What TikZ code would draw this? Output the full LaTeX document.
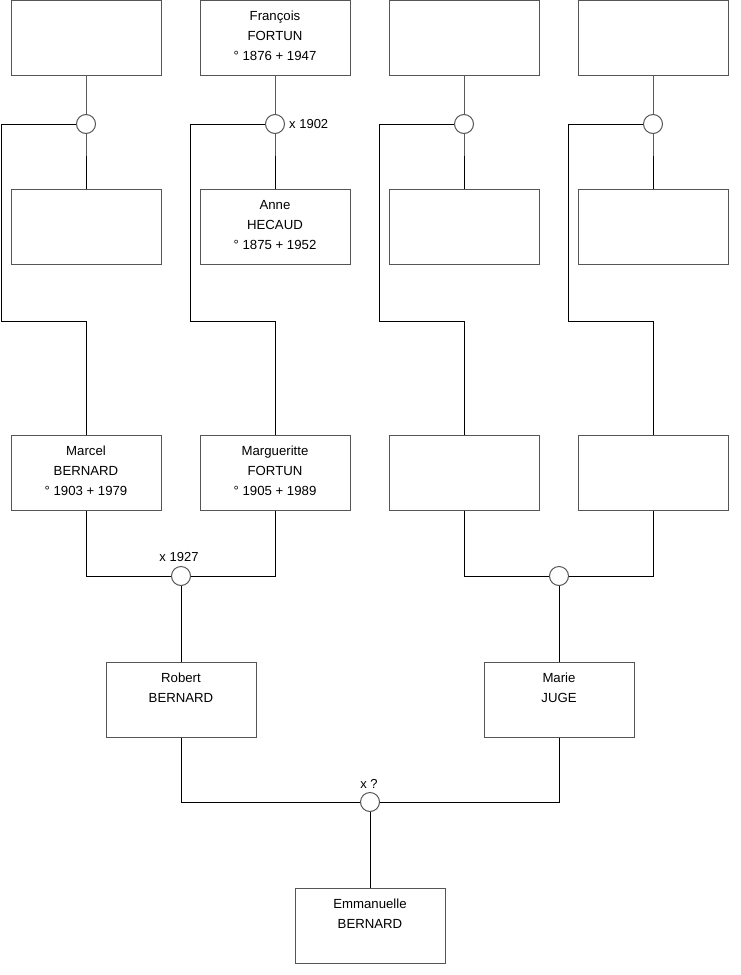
\documentclass[tikz,border=0pt]{standalone}
\usepackage{fontspec}
\setmainfont{Liberation Sans}
\definecolor{boxline}{RGB}{85,85,85}
\begin{document}
\begin{tikzpicture}[x=1pt,y=-1pt,
  pbox/.style={draw=boxline,line width=1pt,minimum width=150pt,minimum height=75pt,inner sep=0pt,fill=white},
  ptext/.style={anchor=base,inner sep=0pt},
  knot/.style={circle,draw=boxline,line width=1pt,minimum size=19pt,inner sep=0pt,fill=white},
  link/.style={draw=black,line width=1pt},
  lbl/.style={inner sep=0pt,font=\fontsize{13}{15}\selectfont}]
\useasboundingbox (0,0) rectangle (740,975);
\newcommand{\ptxt}[1]{\parbox[t]{150pt}{\centering\fontsize{13.2}{20}\selectfont #1}}
% connectors first
\coordinate (k1) at (86,124);
\coordinate (k2) at (275,124);
\coordinate (k3) at (464,124);
\coordinate (k4) at (653,124);
\coordinate (k5) at (181,576);
\coordinate (k6) at (559,576);
\coordinate (k7) at (370,802);
% boxes
\node[pbox] (a1) at (86,38) {};
\node[pbox] (a2) at (275,38) {};
\node[pbox] (a3) at (464,38) {};
\node[pbox] (a4) at (653,38) {};
\node[pbox] (b1) at (86,226.5) {};
\node[pbox] (b2) at (275,226.5) {};
\node[pbox] (b3) at (464,226.5) {};
\node[pbox] (b4) at (653,226.5) {};
\node[pbox] (m1) at (86,472.5) {};
\node[pbox] (m2) at (275,472.5) {};
\node[pbox] (m3) at (464,472.5) {};
\node[pbox] (m4) at (653,472.5) {};
\node[pbox] (r1) at (181,699.5) {};
\node[pbox] (r2) at (559,699.5) {};
\node[pbox] (e1) at (370,925.5) {};
% connectors
\foreach \i/\lx in {1/1,2/190,3/379,4/568}{
  \draw[link] (a\i.south) -- (k\i) -- (b\i.north);
  \draw[link] (k\i) -- (\lx,124) -- (\lx,321) -- (m\i.north |- 0,321) -- (m\i.north);
}
\draw[link] (m1.south) -- (m1.south |- k5) -- (k5);
\draw[link] (m2.south) -- (m2.south |- k5) -- (k5);
\draw[link] (k5) -- (r1.north);
\draw[link] (m3.south) -- (m3.south |- k6) -- (k6);
\draw[link] (m4.south) -- (m4.south |- k6) -- (k6);
\draw[link] (k6) -- (r2.north);
\draw[link] (r1.south) -- (r1.south |- k7) -- (k7);
\draw[link] (r2.south) -- (r2.south |- k7) -- (k7);
\draw[link] (k7) -- (e1.north);
% knots
\foreach \i in {1,...,7}{ \node[knot] (c\i) at (k\i) {}; }
% texts
\node[ptext] (ta2) at ([yshift=-20.5pt]a2.north) {\ptxt{François\\FORTUN\\° 1876 + 1947}};
\node[ptext] (tb2) at ([yshift=-20.5pt]b2.north) {\ptxt{Anne\\HECAUD\\° 1875 + 1952}};
\node[ptext] (tm1) at ([yshift=-20.5pt]m1.north) {\ptxt{Marcel\\BERNARD\\° 1903 + 1979}};
\node[ptext] (tm2) at ([yshift=-20.5pt]m2.north) {\ptxt{Margueritte\\FORTUN\\° 1905 + 1989}};
\node[ptext] (tr1) at ([yshift=-20.5pt]r1.north) {\ptxt{Robert\\BERNARD}};
\node[ptext] (tr2) at ([yshift=-20.5pt]r2.north) {\ptxt{Marie\\JUGE}};
\node[ptext] (te1) at ([yshift=-20.5pt]e1.north) {\ptxt{Emmanuelle\\BERNARD}};
% marriage labels
\node[lbl,anchor=west] (l2) at ([xshift=4pt]c2.east) {x 1902};
\node[lbl,anchor=base] (l5) at ([xshift=-2pt,yshift=4.5pt]c5.north) {x 1927};
\node[lbl,anchor=base] (l7) at ([xshift=-1pt,yshift=3.5pt]c7.north) {x ?};
\end{tikzpicture}
\end{document}
